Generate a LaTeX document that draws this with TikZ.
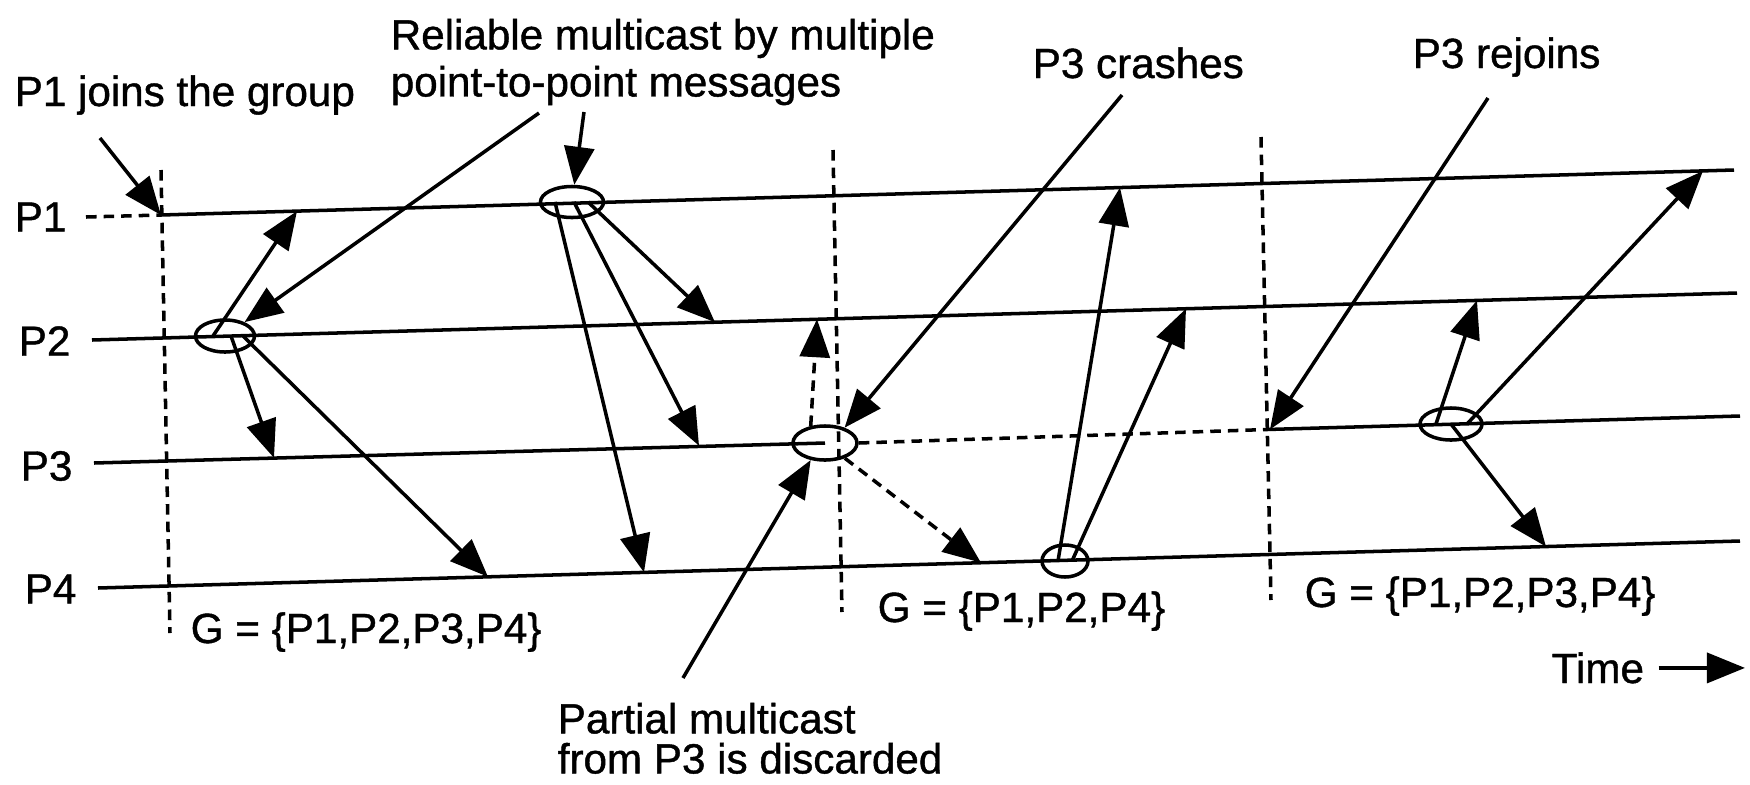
\documentclass[tikz,border=0pt]{standalone}
\usepackage{fontspec}
\setmainfont{Liberation Sans}[FakeBold=1]
\usepackage{tikz}
\usetikzlibrary{arrows.meta, shapes.geometric}

\begin{document}
\begin{tikzpicture}[x=0.01cm, y=-0.01cm, line width=1pt,
    >={Triangle[length=3.8mm, width=3mm]},
    font=\fontsize{12}{14}\selectfont,
    grp/.style 2 args={draw, ellipse, inner sep=0pt, minimum width=#1, minimum height=#2},
    txt/.style={inner sep=0pt, anchor=base west},
    cut/.style={dash pattern=on 3pt off 2pt}]
    \useasboundingbox (0,0) rectangle (1750,784);

    % Nhãn các tiến trình
    \node[inner sep=0pt, anchor=west] (lp1) at (13,217) {P1};
    \node[inner sep=0pt, anchor=west] (lp2) at (17,341) {P2};
    \node[inner sep=0pt, anchor=west] (lp3) at (19,466) {P3};
    \node[inner sep=0pt, anchor=west] (lp4) at (23,589) {P4};

    % Các điểm đầu / cuối của trục thời gian
    \coordinate (p1o) at (86,217);   \coordinate (p1a) at (161,215);  \coordinate (p1b) at (1734,170);
    \coordinate (p2a) at (92,340);   \coordinate (p2b) at (1737,293);
    \coordinate (p3a) at (94,463);   \coordinate (p3r) at (1270,429.4); \coordinate (p3b) at (1740,416);
    \coordinate (p4a) at (98,588);   \coordinate (p4b) at (1740,541);

    % Các lần gửi (vòng elip)
    \node[grp={0.59cm}{0.32cm}] (m1) at (225,336) {};
    \node[grp={0.63cm}{0.31cm}] (m2) at (572,202) {};
    \node[grp={0.64cm}{0.34cm}] (m3) at (825,443) {};
    \node[grp={0.46cm}{0.32cm}] (m4) at (1065,561) {};
    \node[grp={0.62cm}{0.32cm}] (m5) at (1451,424) {};

    % Trục thời gian
    \draw[cut] (p1o) -- (p1a);
    \draw (p1a) -- (p1b);
    \draw (p2a) -- (p2b);
    \draw (p3a) -- (m3.center);
    \draw[cut] (m3.east) -- (p3r);
    \draw (p3r) -- (p3b);
    \draw (p4a) -- (p4b);

    % Các vạch đổi nhóm
    \coordinate (v1a) at (161,170);  \coordinate (v1b) at (170,633);
    \coordinate (v2a) at (833,150);  \coordinate (v2b) at (842,612);
    \coordinate (v3a) at (1261,137); \coordinate (v3b) at (1271,600);
    \draw[cut] (v1a) -- (v1b);
    \draw[cut] (v2a) -- (v2b);
    \draw[cut] (v3a) -- (v3b);

    % Điểm nhận thông điệp trên các trục
    \coordinate (a1) at (297,211.1);  \coordinate (a2) at (274,457.9);  \coordinate (a3) at (488,576.8);
    \coordinate (b1) at (715,322.2);  \coordinate (b2) at (699,445.7);  \coordinate (b3) at (644,572.4);
    \coordinate (c1) at (817,319.2);  \coordinate (c2) at (981,562.7);
    \coordinate (d1) at (1120,187.6); \coordinate (d2) at (1186,308.7);
    \coordinate (e1) at (1477,300.4); \coordinate (e2) at (1703,170.9); \coordinate (e3) at (1546,546.6);

    % Các thông điệp điểm-điểm
    \draw[->] ([xshift=-0.12cm]m1.center) -- (a1);
    \draw[->] ([xshift=0.06cm]m1.center) -- (a2);
    \draw[->] ([xshift=0.18cm]m1.center) -- (a3);
    \draw[->] ([xshift=0.16cm]m2.center) -- (b1);
    \draw[->] ([xshift=0.02cm]m2.center) -- (b2);
    \draw[->] ([xshift=-0.17cm]m2.center) -- (b3);
    \draw[->, cut] (m3.130) -- (c1);
    \draw[->, cut] (m3) -- (c2);
    \draw[->] ([xshift=-0.07cm]m4.center) -- (d1);
    \draw[->] ([xshift=0.07cm]m4.center) -- (d2);
    \draw[->] ([xshift=-0.15cm]m5.center) -- (e1);
    \draw[->] ([xshift=0.16cm]m5.center) -- (e2);
    \draw[->] (m5.center) -- (e3);

    % Chú thích
    \node[txt] (tjoin) at (13,106) {P1 joins the group};
    \node[inner sep=0pt, anchor=north west, align=left,
          font=\fontsize{12}{13.4}\selectfont] (trel) at (389,17)
          {Reliable multicast by multiple\\point-to-point messages};
    \node[txt] (tcrash) at (1031,78) {P3 crashes};
    \node[txt] (trejoin) at (1411,68) {P3 rejoins};
    \node[inner sep=0pt, anchor=north west, align=left,
          font=\fontsize{12}{11.4}\selectfont] (tpart) at (556,701)
          {Partial multicast\\from P3 is discarded};
    \node[txt] (g1) at (189,643) {G = \{P1,P2,P3,P4\}};
    \node[txt] (g2) at (876,622) {G = \{P1,P2,P4\}};
    \node[txt] (g3) at (1303,607) {G = \{P1,P2,P3,P4\}};
    \node[txt] (time) at (1550,683) {Time};

    % Mũi tên chỉ dẫn
    \coordinate (qj) at (100,138);
    \coordinate (qr1) at (539,113);
    \coordinate (qr2) at (584,112);
    \coordinate (qc) at (1122,95);
    \coordinate (qp) at (683,678);
    \coordinate (qj2) at (1488,98);
    \coordinate (tend) at (1745,668);
    \draw[->] (qj) -- (p1a);
    \draw[->] (qr1) -- (m1);
    \draw[->] (qr2) -- (m2);
    \draw[->] (qc) -- (m3.38);
    \draw[->] (qp) -- (m3.230);
    \draw[->] (qj2) -- (p3r);
    \draw[->] ([xshift=0.13cm]time.east) -- (time.east -| tend);
\end{tikzpicture}
\end{document}
